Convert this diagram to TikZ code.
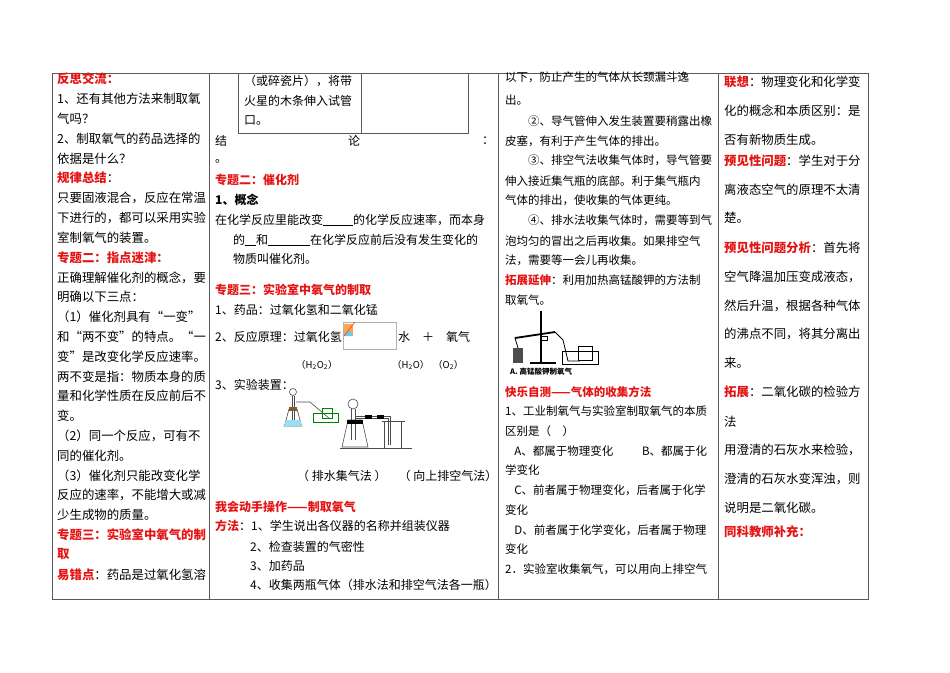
\documentclass[tikz,border=0pt]{standalone}
\usepackage{fontspec}
\setmainfont{Noto Sans CJK SC}
\definecolor{hred}{RGB}{228,20,20}
\definecolor{bord}{RGB}{90,90,90}
\newcommand\tx[3]{\node[anchor=west,inner sep=0pt] at (#1,#2) {#3};}
\newcommand\rb[1]{\textcolor{hred}{\bfseries #1}}
\newcommand\blank[1]{\underline{\hspace{#1pt}}}
\begin{document}
\begin{tikzpicture}[x=1pt,y=-1pt,every node/.style={font=\fontsize{12.4}{14}\selectfont},
 app/.style={draw=black!70,line width=0.6pt}]
\useasboundingbox (0,0) rectangle (950,672);
% table
\draw[bord,line width=0.8pt] (52,73) rectangle (868,599);
\draw[bord,line width=0.8pt] (209,73)--(209,599) (498,73)--(498,599) (718,73)--(718,599);
\draw[bord,line width=0.7pt] (238,73)--(238,133)--(468,133)--(468,73) (361,73)--(361,133);
% column 1
\tx{57}{79}{\rb{反思交流：}}
\tx{57}{99}{1、还有其他方法来制取氧}
\tx{57}{119}{气吗？}
\tx{57}{139}{2、制取氧气的药品选择的}
\tx{57}{159}{依据是什么？}
\tx{57}{178}{\rb{规律总结}：}
\tx{57}{198}{只要固液混合，反应在常温}
\tx{57}{218}{下进行的，都可以采用实验}
\tx{57}{238}{室制氧气的装置。}
\tx{57}{258}{\rb{专题二：指点迷津：}}
\tx{57}{278}{正确理解催化剂的概念，要}
\tx{57}{297}{明确以下三点：}
\tx{57}{317}{（1）催化剂具有“一变”}
\tx{57}{337}{和“两不变”的特点。“一}
\tx{57}{357}{变”是改变化学反应速率。}
\tx{57}{377}{两不变是指：物质本身的质}
\tx{57}{396}{量和化学性质在反应前后不}
\tx{57}{416}{变。}
\tx{57}{436}{（2）同一个反应，可有不}
\tx{57}{456}{同的催化剂。}
\tx{57}{476}{（3）催化剂只能改变化学}
\tx{57}{495}{反应的速率，不能增大或减}
\tx{57}{515}{少生成物的质量。}
\tx{57}{535}{\rb{专题三：实验室中氧气的制}}
\tx{57}{554}{\rb{取}}
\tx{57}{575}{\rb{易错点}：药品是过氧化氢溶}
% column 2
\begin{scope}[every node/.style={font=\fontsize{12}{14}\selectfont}]
\tx{244}{81}{（或碎瓷片），将带}
\tx{244}{101}{火星的木条伸入试管}
\tx{244}{120}{口。}
\tx{215}{141}{结}
\tx{348}{141}{论}
\tx{482}{141}{：}
\tx{215}{161}{。}
\tx{215}{180}{\rb{专题二：催化剂}}
\tx{215}{200}{\bfseries 1、概念}
\tx{215}{220}{在化学反应里能改变\blank{30}的化学反应速率，而本身}
\tx{233}{240}{的\blank{11}和\blank{42}在化学反应前后没有发生变化的}
\tx{233}{259}{物质叫催化剂。}
\tx{215}{290}{\rb{专题三：实验室中氧气的制取}}
\tx{215}{310}{1、药品：过氧化氢和二氧化锰}
\tx{215}{337}{2、反应原理：过氧化氢}
\draw[black!30,line width=0.6pt] (343,322) rectangle (396,349);
\fill[orange!70] (344,324) rectangle (353,336);
\fill[cyan!60] (344,336)--(349,330)--(353,336)--cycle;
\draw[red!80,line width=0.6pt] (344,336)--(355,322);
\tx{398}{337}{水\quad ＋\quad 氧气}
\tx{296}{365}{\fontsize{9.5}{12}\selectfont（H\textsubscript{2}O\textsubscript{2}）}
\tx{392}{365}{\fontsize{9.5}{12}\selectfont（H\textsubscript{2}O）}
\tx{433}{365}{\fontsize{9.5}{12}\selectfont（O\textsubscript{2}）}
\tx{215}{385}{3、实验装置：}
% apparatus small (water displacement)
\begin{scope}[yshift=-4pt]
\draw[app] (293,388) circle (3.5);
\draw[app] (292,392)--(292,420) (294,392)--(294,420);
\draw[app] (289,405)--(285,420)--(284,422)--(302,422)--(301,420)--(297,405)--cycle;
\fill[cyan!40] (286,416)--(300,416)--(302,422)--(284,422)--cycle;
\fill[brown!70!black] (289,403) rectangle (297,407);
\draw[app] (296,398)--(310,398)--(330,415);
\draw[green!50!black,thin] (313,409) rectangle (338,418);
\draw[green!50!black,thin] (322,404) rectangle (332,414);
\end{scope}
% apparatus large (upward air)
\draw[app] (353,404) circle (5);
\draw[app] (351,409)--(351,440) (355,409)--(355,440);
\draw[app] (348,420)--(342,447)--(368,447)--(362,420)--cycle;
\fill[black] (347,420) rectangle (363,424);
\draw[app] (355,416)--(390,416)--(390,445) (355,418)--(388,418)--(388,445);
\fill[black] (365,415) rectangle (372,419);
\fill[black] (377,415) rectangle (384,419);
\draw[app] (384,421) rectangle (401,448);
\draw[app] (382,421)--(405,421);
\draw[app] (340,448)--(412,448);
\tx{297}{476}{（ 排水集气法 ）\quad（ 向上排空气法）}
\tx{215}{507}{\rb{我会动手操作——制取氧气}}
\tx{215}{526}{\rb{方法}：1、学生说出各仪器的名称并组装仪器}
\tx{250}{547}{2、检查装置的气密性}
\tx{250}{566}{3、加药品}
\tx{250}{585}{4、收集两瓶气体（排水法和排空气法各一瓶）}
\end{scope}
% column 3
\begin{scope}[every node/.style={font=\fontsize{11.5}{14}\selectfont}]
\tx{505}{77}{以下，防止产生的气体从长颈漏斗逸}
\tx{505}{100}{出。}
\tx{505}{121}{\hspace{2em}②、导气管伸入发生装置要稍露出橡}
\tx{505}{141}{皮塞，有利于产生气体的排出。}
\tx{505}{160}{\hspace{2em}③、排空气法收集气体时，导气管要}
\tx{505}{181}{伸入接近集气瓶的底部。利于集气瓶内}
\tx{505}{200}{气体的排出，使收集的气体更纯。}
\tx{505}{220}{\hspace{2em}④、排水法收集气体时，需要等到气}
\tx{505}{241}{泡均匀的冒出之后再收集。如果排空气}
\tx{505}{260}{法，需要等一会儿再收集。}
\tx{505}{280}{\rb{拓展延伸}：利用加热高锰酸钾的方法制}
\tx{505}{300}{取氧气。}
\tx{505}{392}{\rb{快乐自测——气体的收集方法}}
\tx{505}{411}{1、工业制氧气与实验室制取氧气的本质}
\tx{505}{431}{区别是（\quad ）}
\tx{505}{451}{\hspace{0.8em}A、都属于物理变化\hspace{2.5em}B、都属于化}
\tx{505}{470}{学变化}
\tx{505}{490}{\hspace{0.8em}C、前者属于物理变化，后者属于化学}
\tx{505}{510}{变化}
\tx{505}{530}{\hspace{0.8em}D、前者属于化学变化，后者属于物理}
\tx{505}{549}{变化}
\tx{505}{569}{2．实验室收集氧气，可以用向上排空气}
\end{scope}
% KMnO4 apparatus
\draw[black,line width=1.4pt] (541,311)--(541,362);
\draw[black,line width=1.6pt] (530,363)--(556,363);
\draw[black,line width=1.8pt] (515,338)--(555,332);
\draw[black,line width=1pt] (541,336) rectangle (547,340);
\draw[black,line width=0.8pt] (555,332)--(563,340)--(568,361)--(580,361);
\draw[black,line width=0.8pt] (562,351) rectangle (598,364);
\draw[black,line width=0.8pt] (578,346) rectangle (592,360);
\fill[black!70] (513,348) rectangle (523,363);
\draw[black,line width=0.8pt] (515,338)--(518,348);
\node[anchor=west,inner sep=0pt,font=\fontsize{7.5}{9}\selectfont\bfseries] at (510,372) {A. 高锰酸钾制氧气};
% column 4
\tx{724}{82}{\rb{联想}：物理变化和化学变}
\tx{724}{111}{化的概念和本质区别：是}
\tx{724}{140}{否有新物质生成。}
\tx{724}{161}{\rb{预见性问题}：学生对于分}
\tx{724}{190}{离液态空气的原理不太清}
\tx{724}{218}{楚。}
\tx{724}{248}{\rb{预见性问题分析}：首先将}
\tx{724}{277}{空气降温加压变成液态，}
\tx{724}{306}{然后升温，根据各种气体}
\tx{724}{334}{的沸点不同，将其分离出}
\tx{724}{363}{来。}
\tx{724}{392}{\rb{拓展}：二氧化碳的检验方}
\tx{724}{422}{法}
\tx{724}{450}{用澄清的石灰水来检验，}
\tx{724}{479}{澄清的石灰水变浑浊，则}
\tx{724}{508}{说明是二氧化碳。}
\tx{724}{532}{\rb{同科教师补充：}}
\end{tikzpicture}
\end{document}
